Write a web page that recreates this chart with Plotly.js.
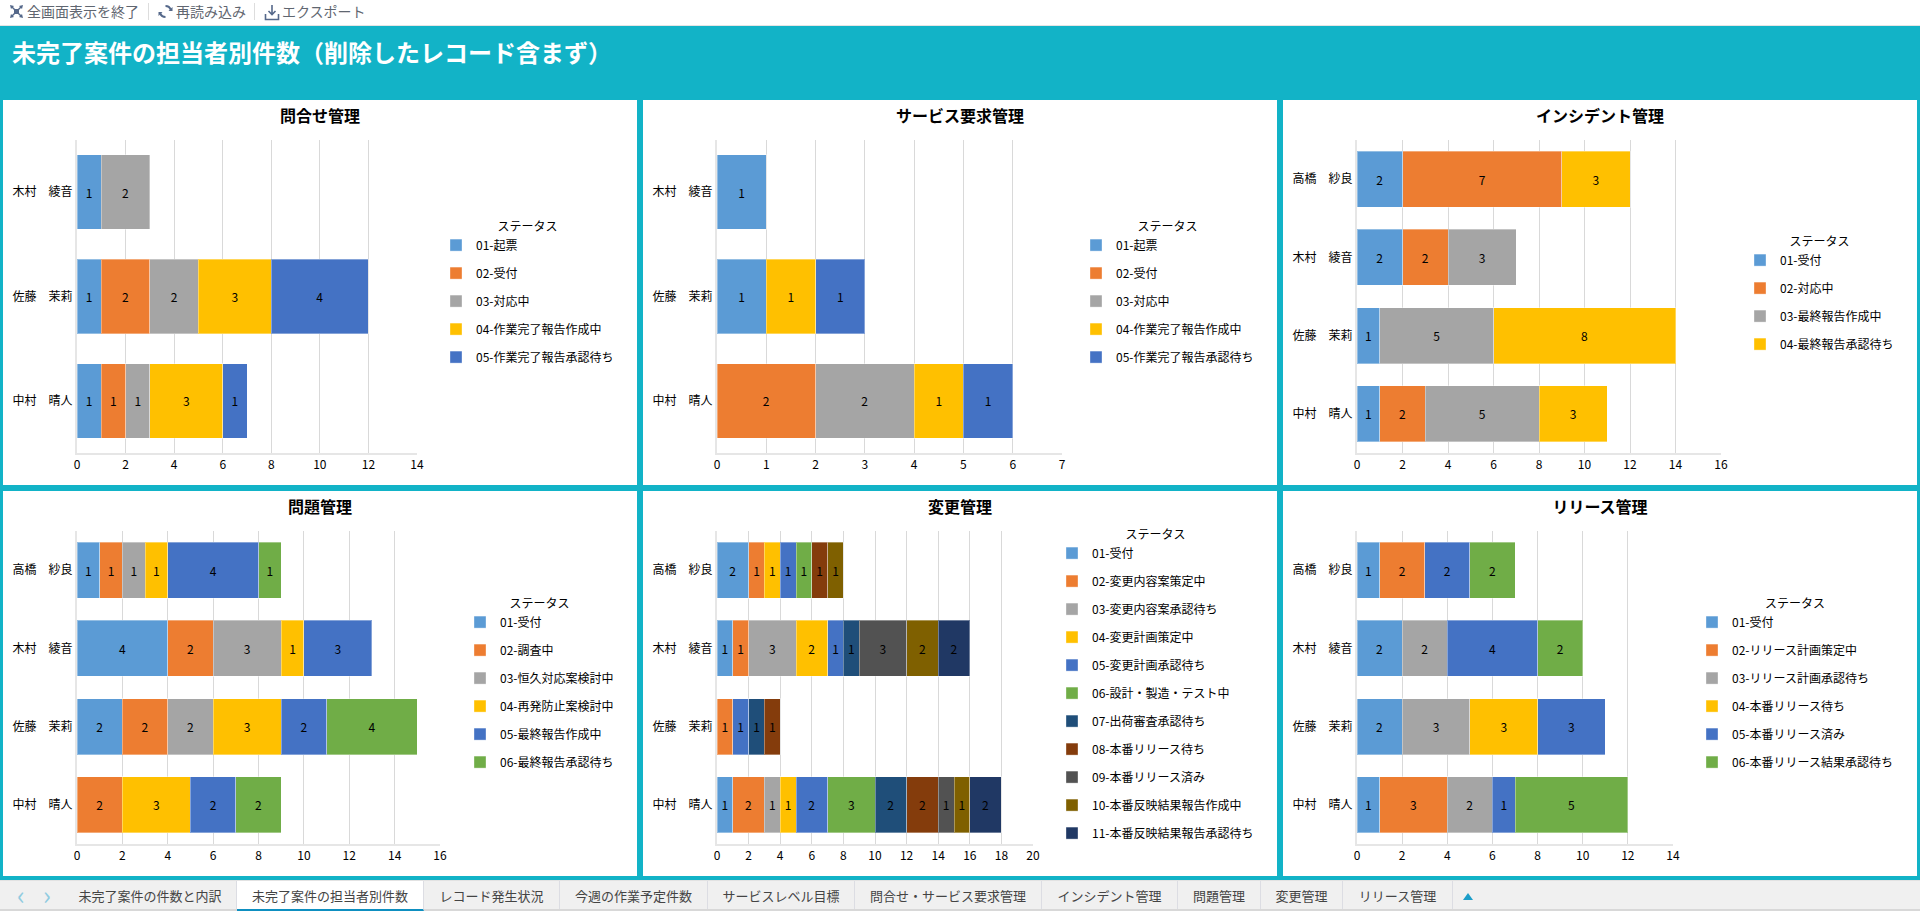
<!DOCTYPE html>
<html lang="ja"><head><meta charset="utf-8">
<script src="https://cdn.plot.ly/plotly-3.0.1.min.js"></script>
<style>
html,body{margin:0;padding:0;width:1920px;height:911px;overflow:hidden;background:#fff;font-family:"Noto Sans CJK JP",sans-serif}
#toolbar{position:absolute;left:0;top:0;width:1920px;height:25px;background:#fff;border-bottom:1px solid #e4e4e4;color:#5f6670;font-size:14px}
#toolbar span{position:absolute;top:0;line-height:22px;white-space:nowrap}
#toolbar i{position:absolute;top:3px;width:1px;height:17px;background:#ddd}
#toolbar svg{position:absolute;top:4px}
#band{position:absolute;left:0;top:26px;width:1920px;height:854px;background:#12b3c7}
h1{position:absolute;left:12px;top:34px;margin:0;font-size:24px;line-height:36px;font-weight:700;color:#fff;white-space:nowrap}
.panel{position:absolute;width:634px;height:385px;background:#fff}
#tabs{position:absolute;left:0;top:880px;width:1920px;height:31px;background:#f0f0f0;border-top:1px solid #e2e2e2;box-sizing:border-box;color:#444;font-size:13px}
#tabs::after{content:"";position:absolute;left:0;right:0;bottom:0;height:2px;background:#d8d8d8}
.tab{position:absolute;top:0;height:30px;line-height:29px;text-align:center;border-right:1px solid #dcdde3;box-sizing:border-box;white-space:nowrap}
.tab.on{background:#fff;border-bottom:2px solid #0e8fc0;z-index:2}
.nav{position:absolute;top:0;line-height:26px;color:#8fcbe0;font-size:26px}
</style></head><body>
<div id="toolbar">
<svg style="left:9px" width="15" height="15" viewBox="0 0 15 15"><path d="M1 1l4 1-1 1 2 2-1 1-2-2-1 1zM14 1l-1 4-1-1-2 2-1-1 2-2-1-1zM1 14l1-4 1 1 2-2 1 1-2 2 1 1zM14 14l-4-1 1-1-2-2 1-1 2 2 1-1zM5 5h5v5H5z" fill="#55688a"/></svg>
<span style="left:27px">全画面表示を終了</span><i style="left:148px"></i>
<svg style="left:158px" width="15" height="15" viewBox="0 0 15 15"><path d="M7.5 2a5.5 5.5 0 0 1 5.2 3.7M7.5 13a5.5 5.5 0 0 1-5.2-3.7" fill="none" stroke="#55688a" stroke-width="2"/><path d="M14.5 3v4h-4zM.5 12V8h4z" fill="#55688a"/></svg>
<span style="left:176px">再読み込み</span><i style="left:254px"></i>
<svg style="left:264px" width="16" height="17" viewBox="0 0 16 17"><path d="M8 1v9M4.500 7L8 10.500 11.500 7M1.500 10v5.500h13V10" fill="none" stroke="#55688a" stroke-width="1.600"/></svg>
<span style="left:282px">エクスポート</span>
</div>
<div id="band"></div>
<h1>未完了案件の担当者別件数（削除したレコード含まず）</h1>
<div id="p1" class="panel" style="left:3px;top:100px"></div>
<div id="p2" class="panel" style="left:643px;top:100px"></div>
<div id="p3" class="panel" style="left:1283px;top:100px"></div>
<div id="p4" class="panel" style="left:3px;top:491px"></div>
<div id="p5" class="panel" style="left:643px;top:491px"></div>
<div id="p6" class="panel" style="left:1283px;top:491px"></div>
<div id="tabs">
<span class="nav" style="left:17px">‹</span><span class="nav" style="left:43px">›</span>
<div class="tab" style="left:64px;width:173px">未完了案件の件数と内訳</div>
<div class="tab on" style="left:237px;width:187px">未完了案件の担当者別件数</div>
<div class="tab" style="left:424px;width:136px">レコード発生状況</div>
<div class="tab" style="left:560px;width:148px">今週の作業予定件数</div>
<div class="tab" style="left:708px;width:147px">サービスレベル目標</div>
<div class="tab" style="left:855px;width:187px">問合せ・サービス要求管理</div>
<div class="tab" style="left:1042px;width:136px">インシデント管理</div>
<div class="tab" style="left:1178px;width:83px">問題管理</div>
<div class="tab" style="left:1261px;width:82px">変更管理</div>
<div class="tab" style="left:1343px;width:110px">リリース管理</div>
<svg style="position:absolute;left:1463px;top:12px" width="10" height="7"><path d="M5 0l5 7H0z" fill="#1c9ec9"/></svg>
</div>
<script>
// ---- categories (bottom to top) ----
const people3 = ["中村　晴人", "佐藤　茉莉", "木村　綾音"];
const people4 = ["中村　晴人", "佐藤　茉莉", "木村　綾音", "高橋　紗良"];

// ---- status names ----
const statusInquiry = ["01-起票", "02-受付", "03-対応中", "04-作業完了報告作成中", "05-作業完了報告承認待ち"];
const statusIncident = ["01-受付", "02-対応中", "03-最終報告作成中", "04-最終報告承認待ち"];
const statusProblem = ["01-受付", "02-調査中", "03-恒久対応案検討中", "04-再発防止案検討中", "05-最終報告作成中", "06-最終報告承認待ち"];
const statusChange = ["01-受付", "02-変更内容案策定中", "03-変更内容案承認待ち", "04-変更計画策定中", "05-変更計画承認待ち", "06-設計・製造・テスト中", "07-出荷審査承認待ち", "08-本番リリース待ち", "09-本番リリース済み", "10-本番反映結果報告作成中", "11-本番反映結果報告承認待ち"];
const statusRelease = ["01-受付", "02-リリース計画策定中", "03-リリース計画承認待ち", "04-本番リリース待ち", "05-本番リリース済み", "06-本番リリース結果承認待ち"];

// ---- values: one row per status, one column per person ----
const inquiryValues = [[1,1,1],[1,2,null],[1,2,2],[3,3,null],[1,4,null]];
const serviceValues = [[null,1,1],[2,null,null],[2,null,null],[1,1,null],[1,1,null]];
const incidentValues = [[1,1,2,2],[2,null,2,7],[5,5,3,null],[3,8,null,3]];
const problemValues = [[null,2,4,1],[2,2,2,1],[null,2,3,1],[3,3,1,1],[2,2,3,4],[2,4,null,1]];
const changeValues = [[1,null,1,2],[2,1,1,1],[1,null,3,null],[1,null,2,1],[2,1,1,1],[3,null,null,1],[2,1,1,null],[2,1,null,1],[1,null,3,null],[1,null,2,1],[2,null,2,null]];
const releaseValues = [[1,2,2,1],[3,null,null,2],[2,3,2,null],[null,3,null,null],[1,3,4,2],[5,null,2,2]];

// ---- series colours ----
const palette = ["#5b9bd5","#ed7d31","#a5a5a5","#ffc000","#4472c4","#70ad47","#1f4e79","#843c0c","#525252","#7f6000","#203864"];
const font = '"Noto Sans CJK JP","Noto Sans",sans-serif';

const charts = [
 {id:"p1",title:"問合せ管理",cats:people3,names:statusInquiry,vals:inquiryValues,max:14,dtick:2,right:417,left:77,ox:3,oy:100,lx:450,ly:235},
 {id:"p2",title:"サービス要求管理",cats:people3,names:statusInquiry,vals:serviceValues,max:7,dtick:1,right:1062,left:717,ox:643,oy:100,lx:1090,ly:235},
 {id:"p3",title:"インシデント管理",cats:people4,names:statusIncident,vals:incidentValues,max:16,dtick:2,right:1721,left:1357,ox:1283,oy:100,lx:1754,ly:250},
 {id:"p4",title:"問題管理",cats:people4,names:statusProblem,vals:problemValues,max:16,dtick:2,right:440,left:77,ox:3,oy:491,lx:474,ly:612},
 {id:"p5",title:"変更管理",cats:people4,names:statusChange,vals:changeValues,max:20,dtick:2,right:1033,left:717,ox:643,oy:491,lx:1066,ly:543},
 {id:"p6",title:"リリース管理",cats:people4,names:statusRelease,vals:releaseValues,max:14,dtick:2,right:1673,left:1357,ox:1283,oy:491,lx:1706,ly:612}
];
const W=634,H=385,TOP=40,BOT=32;
charts.forEach(c=>{
  const traces=c.names.map((n,i)=>({
    type:"bar",orientation:"h",name:n,legendgroup:n,
    y:c.cats,x:c.vals[i],
    marker:{color:palette[i],line:{color:"rgba(255,255,255,0.35)",width:1}},
    texttemplate:"%{x}",textposition:"inside",insidetextanchor:"middle",textangle:0,constraintext:"none",
    textfont:{family:font,size:12,color:"#000"},
    hoverinfo:"x+y+name"
  }));
  const layout={
    width:W,height:H,paper_bgcolor:"#fff",plot_bgcolor:"#fff",
    font:{family:font,size:12,color:"#000"},
    title:{text:"<b>"+c.title+"</b>",font:{family:font,size:16,color:"#000"},x:0.5,xanchor:"center",y:1-16.5/H,yanchor:"middle"},
    margin:{l:c.left-c.ox,r:W-(c.right-c.ox),t:TOP,b:BOT,pad:0},
    barmode:"stack",bargap:0.2857,showlegend:true,
    xaxis:{range:[0,c.max],dtick:c.dtick,tick0:0,fixedrange:true,showgrid:true,gridcolor:"#d9d9d9",gridwidth:1,showline:true,linecolor:"#e6e6e6",linewidth:2,zeroline:false,ticks:"",tickfont:{family:font,size:12,color:"#000"}},
    yaxis:{type:"category",categoryorder:"array",categoryarray:c.cats,fixedrange:true,showgrid:false,showline:true,linecolor:"#e6e6e6",linewidth:2,zeroline:false,ticks:"",tickfont:{family:font,size:12,color:"#000"}},
    legend:{xref:"container",yref:"container",x:(c.lx-c.ox-14)/W,xanchor:"left",y:1-(c.ly-c.oy-20)/H,yanchor:"top",traceorder:"grouped",tracegroupgap:9,itemclick:false,itemdoubleclick:false,maxheight:H,
      font:{family:font,size:12,color:"#000"},bgcolor:"rgba(0,0,0,0)",
      title:{text:"ステータス",side:"top center",font:{family:font,size:12,color:"#000"}}}
  };
  Plotly.newPlot(c.id,traces,layout,{displayModeBar:false,responsive:false});
});
</script>
</body></html>
